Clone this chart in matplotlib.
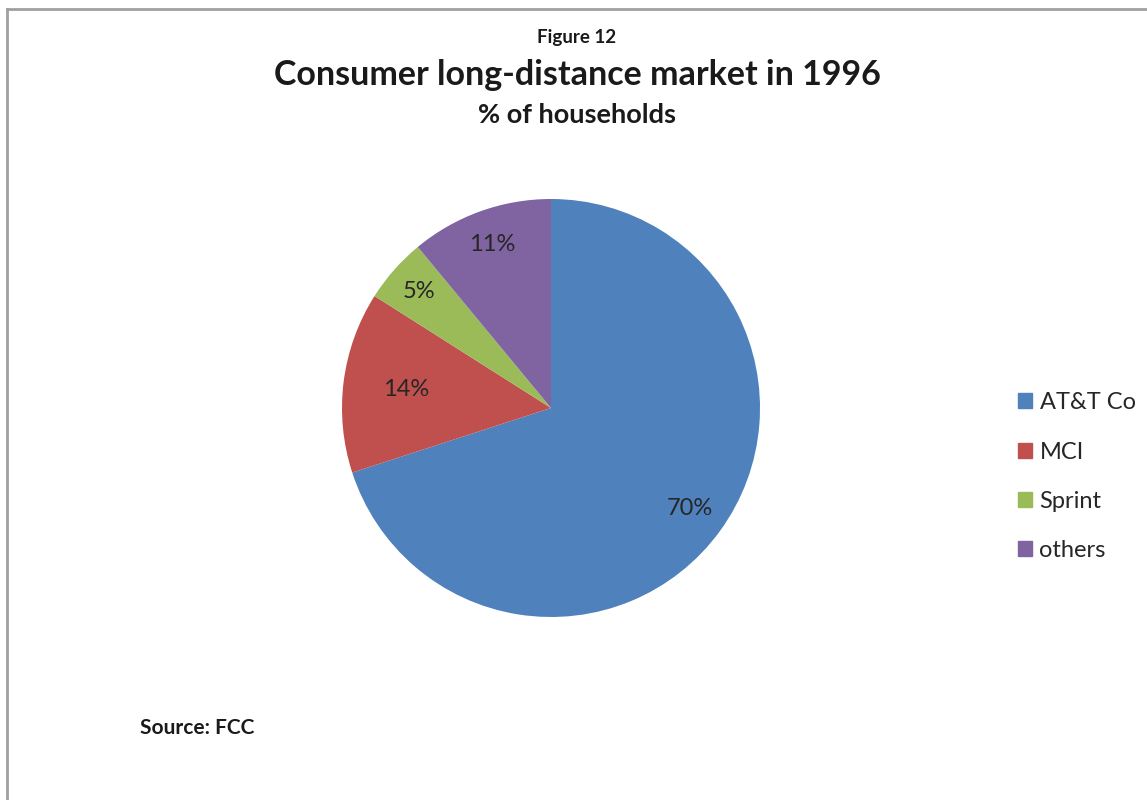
import matplotlib
matplotlib.use("Agg")
import matplotlib.pyplot as plt
from matplotlib.lines import Line2D
import matplotlib.patches as mpatches
import numpy as np

# ── data ──────────────────────────────────────────────────────────────────────
CARRIERS = ["AT&T Co", "MCI", "Sprint", "others"]
SHARES   = [70, 14, 5, 11]
COLORS   = ["#4F81BD", "#C0504D", "#9BBB59", "#8064A2"]
LABEL_DIST = [0.82, 0.70, 0.84, 0.83]   # Excel "best fit" label placement

plt.rcParams["font.family"] = ["Lato", "DejaVu Sans"]

W, H = 1147, 800
fig = plt.figure(figsize=(W / 100, H / 100), dpi=100)

# ── pie ──────────────────────────────────────────────────────────────────────
cx, cy, r = 551, 408, 209
ax = fig.add_axes([(cx - r) / W, (H - cy - r) / H, 2 * r / W, 2 * r / H])
wedges, _ = ax.pie(SHARES, colors=COLORS, startangle=90, counterclock=False,
                   radius=1.0, wedgeprops=dict(linewidth=0))
for w, v, d in zip(wedges, SHARES, LABEL_DIST):
    mid = np.deg2rad((w.theta1 + w.theta2) / 2)
    ax.text(d * np.cos(mid), d * np.sin(mid), f"{v}%", ha="center", va="center",
            fontsize=17, color="#262626")
ax.set_xlim(-1, 1)
ax.set_ylim(-1, 1)
ax.set_aspect("equal")
ax.axis("off")

# ── titles ───────────────────────────────────────────────────────────────────
fig.text(577 / W, 1 - 38 / H, "Figure 12", ha="center", va="center",
         fontsize=13.5, fontweight="bold", color="#1a1a1a")
fig.text(577 / W, 1 - 75 / H, "Consumer long-distance market in 1996", ha="center",
         va="center", fontsize=24.5, fontweight="bold", color="#1a1a1a")
fig.text(577 / W, 1 - 115 / H, "% of households", ha="center", va="center",
         fontsize=19.5, fontweight="bold", color="#1a1a1a")
fig.text(140 / W, 1 - 728 / H, "Source: FCC", ha="left", va="center",
         fontsize=15, fontweight="bold", color="#1a1a1a")

# ── legend ───────────────────────────────────────────────────────────────────
handles = [mpatches.Patch(color=c, label=l) for c, l in zip(COLORS, CARRIERS)]
fig.legend(handles=handles, loc="upper left", bbox_to_anchor=(997 / W, 1 - 371 / H),
           frameon=False, fontsize=17, handlelength=0.6, handleheight=0.6,
           handletextpad=0.3, labelspacing=1.2, labelcolor="#262626")

# ── chart border (left and top edges visible) ───────────────────────────────
bx, by = 7.5 / W, 1 - 9 / H
fig.add_artist(Line2D([bx, bx], [0, by], color="#a0a0a0", lw=2, transform=fig.transFigure))
fig.add_artist(Line2D([bx, 1], [by, by], color="#a0a0a0", lw=2, transform=fig.transFigure))

fig.savefig("out.png", dpi=100)
